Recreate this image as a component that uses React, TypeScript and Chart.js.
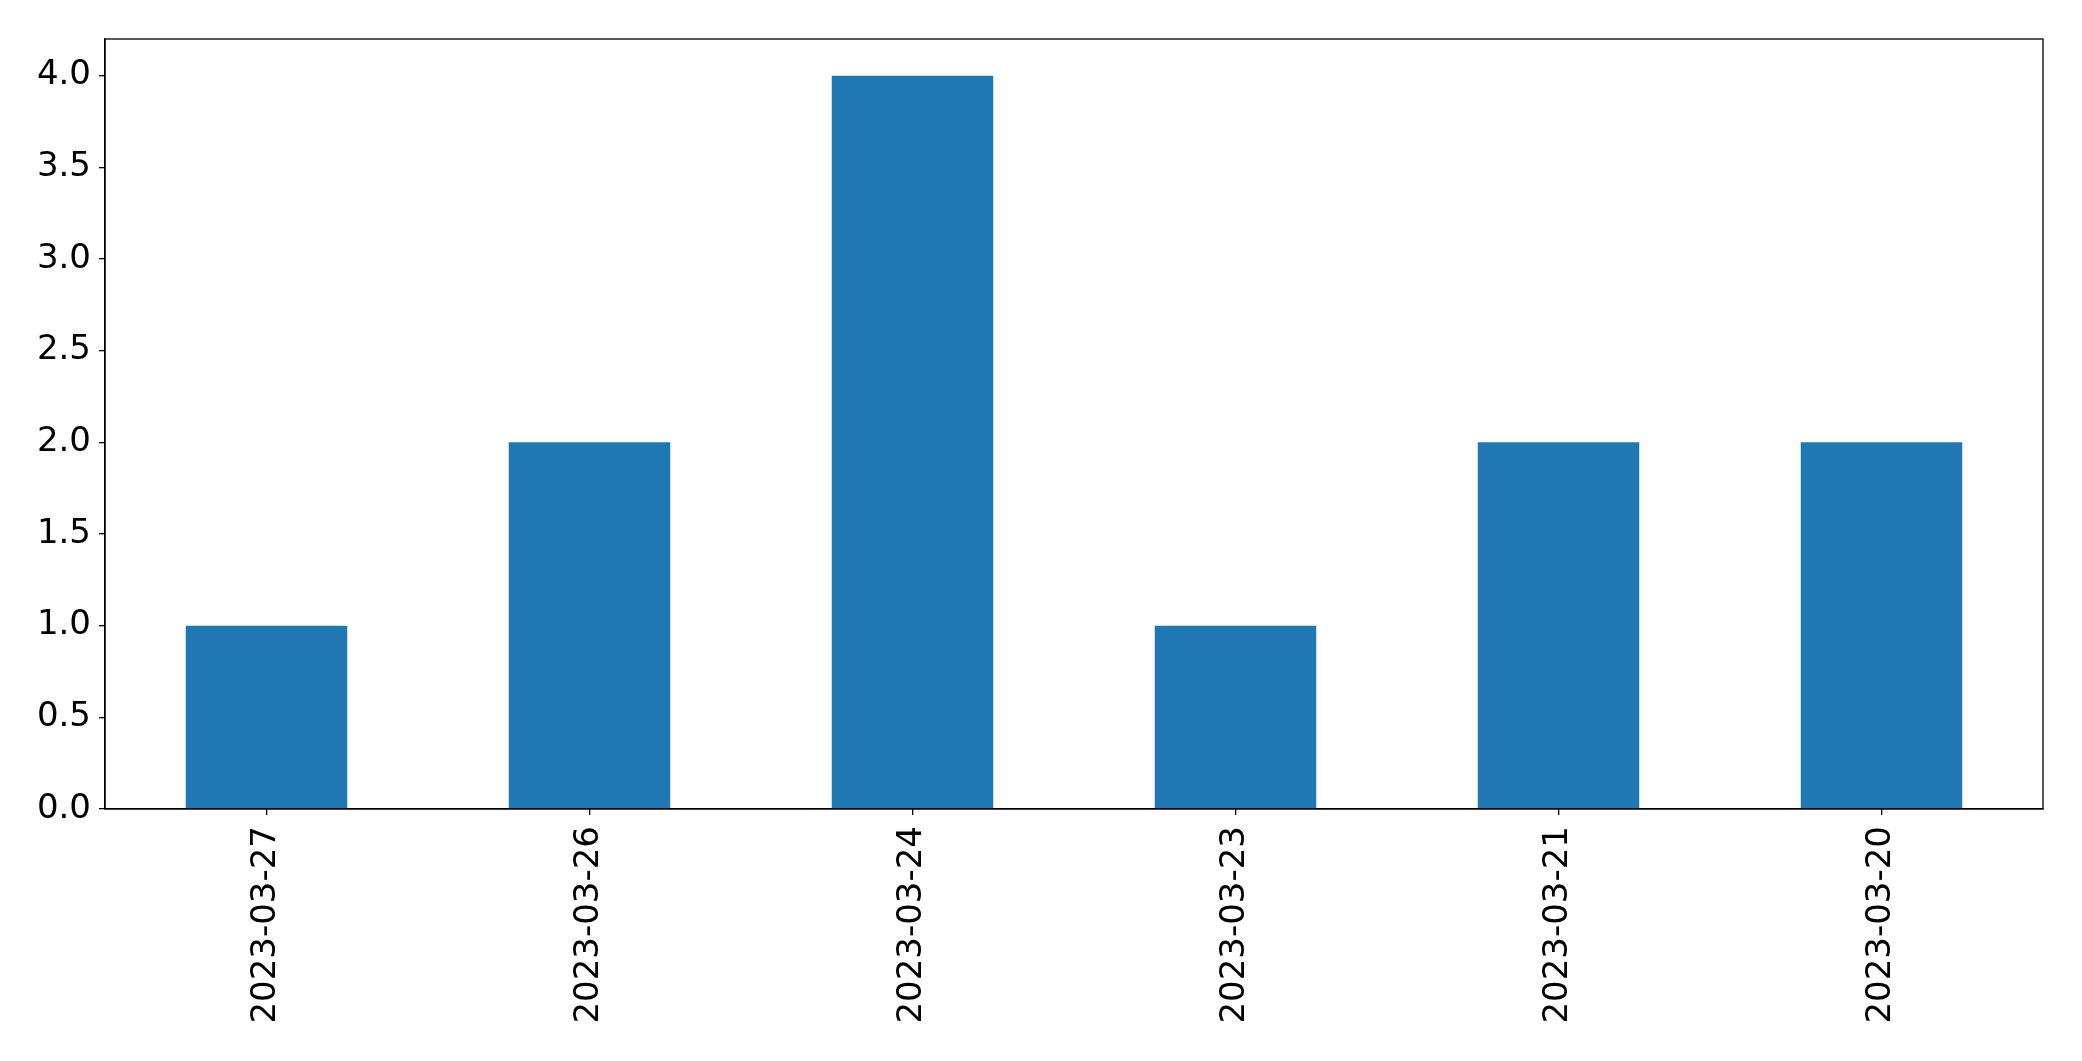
import React, { useEffect, useRef } from "react";
import { Chart, registerables } from "chart.js";

Chart.register(...registerables);

const categories = ["2023-03-27", "2023-03-26", "2023-03-24", "2023-03-23", "2023-03-21", "2023-03-20"];
const counts = [1, 2, 4, 1, 2, 2];
const yTicks = [0, 0.5, 1.0, 1.5, 2.0, 2.5, 3.0, 3.5, 4.0];

const frame = {
  id: "frame",
  afterDraw(chart: any) {
    const { ctx, chartArea } = chart;
    ctx.save();
    ctx.strokeStyle = "#000";
    ctx.lineWidth = 1.3;
    ctx.strokeRect(chartArea.left, chartArea.top, chartArea.right - chartArea.left, chartArea.bottom - chartArea.top);
    ctx.restore();
  },
};

export default function App() {
  const ref = useRef<HTMLCanvasElement>(null);
  useEffect(() => {
    document.body.style.margin = "0";
    const font = { family: "DejaVu Sans", size: 34 };
    const chart = new Chart(ref.current!, {
      type: "bar",
      data: {
        labels: categories,
        datasets: [
          {
            data: counts,
            backgroundColor: "#1f77b4",
            categoryPercentage: 1.0,
            barPercentage: 0.5,
          },
        ],
      },
      options: {
        animation: false,
        responsive: false,
        maintainAspectRatio: false,
        layout: { padding: { top: 39, right: 39, left: 0, bottom: 0 } },
        plugins: { legend: { display: false }, tooltip: { enabled: false } },
        scales: {
          x: {
            offset: true,
            grid: { display: true, drawOnChartArea: false, offset: false, tickLength: 6, color: "#000", lineWidth: 1.3 },
            border: { display: true, color: "#000", width: 1.3 },
            ticks: { font, color: "#000", maxRotation: 90, minRotation: 90, padding: 11, autoSkip: false },
            afterFit(axis: any) {
              axis.height = 252;
            },
          },
          y: {
            min: 0,
            max: 4.2,
            grid: { display: true, drawOnChartArea: false, tickLength: 6, color: "#000", lineWidth: 1.3 },
            border: { display: true, color: "#000", width: 1.3 },
            ticks: {
              font,
              color: "#000",
              padding: 8,
              callback: (v: any) => Number(v).toFixed(1),
            },
            afterBuildTicks(axis: any) {
              axis.ticks = yTicks.map((v) => ({ value: v }));
            },
            afterFit(axis: any) {
              axis.width = 105;
            },
          },
        },
      },
      plugins: [frame],
    });
    return () => chart.destroy();
  }, []);
  return <canvas ref={ref} width={2082} height={1061} style={{ display: "block" }} />;
}
